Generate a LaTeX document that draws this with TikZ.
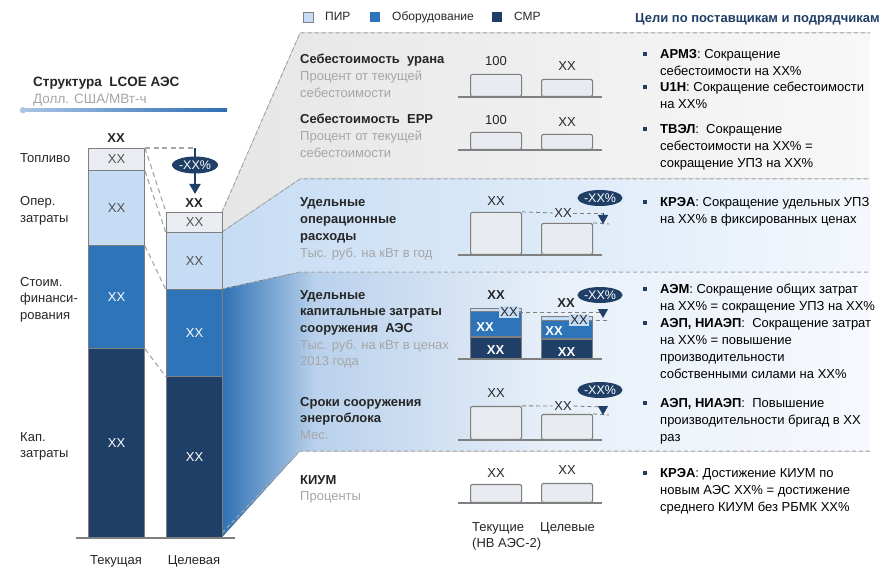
\documentclass[tikz,border=0pt]{standalone}
\usepackage{fontspec}
\setmainfont{Liberation Sans}
\usetikzlibrary{shapes.geometric,arrows.meta}

\definecolor{navy}{HTML}{1F3F66}
\definecolor{midblue}{HTML}{2E74B8}
\definecolor{pale}{HTML}{C5DCF4}
\definecolor{fuel}{HTML}{E9EDF2}
\definecolor{edge}{HTML}{7F7F7F}
\definecolor{ink}{HTML}{262626}
\definecolor{subgrey}{HTML}{A6A6A6}
\definecolor{dashc}{HTML}{A6A6A6}
\definecolor{minifill}{HTML}{E8ECF0}
\definecolor{greyA}{HTML}{E6E6E6}
\definecolor{greyB}{HTML}{F8F8F8}
\definecolor{operA}{HTML}{C6DCF4}
\definecolor{operB}{HTML}{F4F8FC}
\definecolor{capA}{HTML}{2F72B4}
\definecolor{capB}{HTML}{B9D1EC}
\definecolor{capC}{HTML}{E9F0F9}
\definecolor{capD}{HTML}{F6F9FD}
\definecolor{lineA}{HTML}{A9C4E4}
\definecolor{lineB}{HTML}{2E6DB4}

% multi-line block whose baseline is that of its first line
\newcommand\ml[1]{\begin{tabular}[t]{@{}l@{}}#1\end{tabular}}

\newcommand\goal[3]{%
  \node[bsq] (#1s) at (645,#2-4.5) {};
  \node[goaltext] (#1) at (660,#2) {\ml{#3}};}

\begin{document}
\begin{tikzpicture}[x=1pt,y=-1pt,
  txt/.style={font=\fontsize{13}{16.7}\selectfont, text=ink, inner sep=0pt, anchor=base west},
  sub/.style={text=subgrey},
  seg/.style={draw=edge, line width=1pt, minimum width=56pt, inner sep=0pt, anchor=north west,
              font=\fontsize{13}{14}\selectfont},
  conn/.style={draw=dashc, line width=1.1pt, dash pattern=on 5pt off 3.5pt},
  paneledge/.style={draw=dashc, line width=1pt, dash pattern=on 4pt off 3pt},
  minibar/.style={draw=edge, fill=minifill, line width=1.1pt, rounded corners=2pt, minimum width=51pt,
                  inner sep=0pt, anchor=south west},
  stackseg/.style={draw=edge, line width=0.8pt, minimum width=51pt, inner sep=0pt, anchor=south west},
  axisln/.style={draw=edge, line width=2pt},
  val/.style={font=\fontsize{13}{14}\selectfont, text=ink, inner sep=0pt, anchor=base},
  minidash/.style={draw=edge, line width=0.9pt, dash pattern=on 4pt off 3pt},
  tri/.style={draw=navy, line width=1pt, -{Triangle[width=10pt,length=9pt]}, navy},
  pct/.style={ellipse, fill=navy, text=white, minimum width=42pt, minimum height=16pt, inner sep=0pt,
              font=\fontsize{12.5}{14}\selectfont},
  callout/.style={fill=pale, inner sep=1.2pt, text=ink, font=\fontsize{13}{14}\selectfont},
  bsq/.style={fill=navy, minimum size=4pt, inner sep=0pt},
  goaltext/.style={txt, font=\fontsize{13}{17}\selectfont, text=black},
  legsq/.style={minimum size=10pt, inner sep=0pt, draw=edge, line width=0.6pt}
]
\useasboundingbox (0,0) rectangle (888,569);
\fill[white] (0,0) rectangle (888,569);

% ---------- panels fanning out of the target bar ----------
\begin{scope}
  \clip (222,212) -- (300,33) -- (870,33) -- (870,179) -- (300,179) -- (222,232) -- cycle;
  \fill[left color=greyA, right color=greyB] (222,30) rectangle (870,240);
\end{scope}
\begin{scope}
  \clip (222,232) -- (300,179) -- (870,179) -- (870,272) -- (300,272) -- (222,289) -- cycle;
  \fill[left color=operA, right color=operB] (222,175) rectangle (870,295);
\end{scope}
\begin{scope}
  \clip (222,289) -- (300,272) -- (870,272) -- (870,451) -- (300,451) -- (222,537) -- cycle;
  \fill[left color=capA, right color=capB] (222,265) rectangle (315,540);
  \fill[left color=capB, right color=capC] (315,265) rectangle (560,540);
  \fill[left color=capC, right color=capD] (560,265) rectangle (871,540);
\end{scope}
\draw[paneledge] (222,212) -- (300,33) -- (870,33);
\draw[paneledge] (222,232) -- (300,179) -- (870,179);
\draw[paneledge] (222,289) -- (300,272) -- (870,272);
\draw[paneledge] (222,533) -- (300,451) -- (870,451);

% ---------- legend ----------
\node[legsq, fill=pale] (lgA) at (308,17) {};
\node[txt, font=\fontsize{12}{14}\selectfont] (lgAt) at (325,21) {ПИР};
\node[legsq, fill=midblue, draw=none] (lgB) at (375,17) {};
\node[txt, font=\fontsize{12}{14}\selectfont] (lgBt) at (392,21) {Оборудование};
\node[legsq, fill=navy, draw=none] (lgC) at (497,17) {};
\node[txt, font=\fontsize{12}{14}\selectfont] (lgCt) at (514,21) {СМР};
\node[txt, text=navy] (goalhead) at (635,23) {\textbf{Цели по поставщикам и подрядчикам}};

% ---------- LCOE title ----------
\node[txt, font=\fontsize{13.5}{15}\selectfont] (ttl) at (33,87) {\textbf{Структура\ \ LCOE АЭС}};
\node[txt, sub, font=\fontsize{13.5}{15}\selectfont] (ttlsub) at (33,104) {Долл. США/МВт-ч};
\fill[left color=lineA, right color=lineB] (23,109) rectangle (227,111.4);
\fill[lineA] (23,110.2) circle (3.2);

% ---------- stacked LCOE bars ----------
\node[seg, fill=fuel, text=ink!80, minimum height=22pt] (cT) at (88,148) {XX};
\node[seg, fill=pale, text=ink!80, minimum height=75pt] (cO) at (88,170) {XX};
\node[seg, fill=midblue, text=white, minimum height=103pt] (cF) at (88,245) {XX};
\node[seg, fill=navy, text=white, minimum height=189pt] (cK) at (88,348) {XX};

\node[seg, fill=fuel, text=ink!80, minimum height=20pt] (tT) at (166,212) {XX};
\node[seg, fill=pale, text=ink!80, minimum height=57pt] (tO) at (166,232) {XX};
\node[seg, fill=midblue, text=white, minimum height=87pt] (tF) at (166,289) {XX};
\node[seg, fill=navy, text=white, minimum height=161pt] (tK) at (166,376) {XX};

\draw[axisln] (76,538) -- (235,538);

\node[val] (cTot) at (116,142.5) {\textbf{XX}};
\node[val] (tTot) at (194,207.5) {\textbf{XX}};

\draw[conn] (cT.north east) -- (tT.north west);
\draw[conn] (cT.south east) -- (tT.south west);
\draw[conn] (cO.south east) -- (tO.south west);
\draw[conn] (cF.south east) -- (tF.south west);

\coordinate (dropA) at (195,148);
\coordinate (dropB) at (195,194);
\draw[conn] (cT.north east) -- (dropA);
\draw[navy, line width=2pt, -{Triangle[width=11pt,length=10pt]}] (dropA) -- (dropB);
\node[pct, minimum width=46pt, minimum height=17pt] (dropPct) at (195,165) {-XX\%};

\node[txt] (lbT) at (20,163) {Топливо};
\node[txt] (lbO) at (20,206) {\ml{Опер.\\затраты}};
\node[txt] (lbF) at (20,286) {\ml{Стоим.\\финанси-\\рования}};
\node[txt] (lbK) at (20,441) {\ml{Кап.\\затраты}};

\node[val] (xCur) at (116,564) {Текущая};
\node[val] (xTgt) at (194,564) {Целевая};

% ---------- row 1: uranium cost ----------
\node[txt] (r1t) at (300,64) {\ml{\textbf{Себестоимость\ \ урана}\\\textcolor{subgrey}{Процент от текущей}\\\textcolor{subgrey}{себестоимости}}};
\draw[axisln] (458,97) -- (602,97);
\node[minibar, minimum height=22pt] (u1) at (470,97) {};
\node[minibar, minimum height=17pt] (u2) at (541,97) {};
\node[val] (u1v) at ([yshift=8pt]u1.north) {100};
\node[val] (u2v) at ([yshift=8pt]u2.north) {XX};

% ---------- row 2: EPP cost ----------
\node[txt] (r2t) at (300,124) {\ml{\textbf{Себестоимость\ \ ЕРР}\\\textcolor{subgrey}{Процент от текущей}\\\textcolor{subgrey}{себестоимости}}};
\draw[axisln] (458,150) -- (602,150);
\node[minibar, minimum height=17pt] (e1) at (470,150) {};
\node[minibar, minimum height=15pt] (e2) at (541,150) {};
\node[val] (e1v) at ([yshift=7pt]e1.north) {100};
\node[val] (e2v) at ([yshift=7pt]e2.north) {XX};

% ---------- row 3: operating costs ----------
\node[txt] (r3t) at (300,207) {\ml{\textbf{Удельные}\\\textbf{операционные}\\\textbf{расходы}\\\textcolor{subgrey}{Тыс. руб. на кВт в год}}};
\draw[axisln] (458,255) -- (602,255);
\node[minibar, minimum height=42pt] (o1) at (470,255) {};
\node[minibar, minimum height=31pt] (o2) at (541,255) {};
\node[val] (o1v) at ([yshift=6pt]o1.north) {XX};
\node[val, anchor=center, inner sep=1.5pt] (o2v) at (563,213) {XX};
\coordinate (o3a) at (603,213);
\coordinate (o3b) at (603,224);
\coordinate (o3c) at (609,224);
\draw[minidash] (o1.north east) -- (o2v.west);
\draw[minidash] (o2v.east) -- (o3a);
\draw[minidash] (o2.north east) -- (o3c);
\draw[tri] (o3a) -- (o3b);
\node[pct] (o3p) at (600,198) {-XX\%};

% ---------- row 4: capital costs ----------
\node[txt] (r4t) at (300,299) {\ml{\textbf{Удельные}\\\textbf{капитальные затраты}\\\textbf{сооружения\ \ АЭС}\\\textcolor{subgrey}{Тыс. руб. на кВт в ценах}\\\textcolor{subgrey}{2013 года}}};
\draw[axisln] (458,359) -- (602,359);
\node[stackseg, fill=navy, minimum height=21pt] (k1n) at (470,359) {};
\node[stackseg, fill=midblue, minimum height=25pt] (k1b) at (k1n.north west) {};
\node[stackseg, fill=pale, minimum height=3pt] (k1p) at (k1b.north west) {};
\node[stackseg, fill=navy, minimum height=19pt] (k2n) at (541,359) {};
\node[stackseg, fill=midblue, minimum height=18pt] (k2b) at (k2n.north west) {};
\node[stackseg, fill=pale, minimum height=4pt] (k2p) at (k2b.north west) {};
\node[val, text=white] (k1bv) at (485,331) {\textbf{XX}};
\node[val, text=white] (k1nv) at (495.5,354) {\textbf{XX}};
\node[val, text=white] (k2bv) at (554,335) {\textbf{XX}};
\node[val, text=white] (k2nv) at (566.5,356) {\textbf{XX}};
\node[val] (k1tot) at (496,299) {\textbf{XX}};
\node[val] (k2tot) at (566,307) {\textbf{XX}};
\node[callout] (k1c) at (509,312) {XX};
\node[callout] (k2c) at (579,320) {XX};
\coordinate (k3a) at (603,312);
\coordinate (k3b) at (603,318);
\coordinate (k3c) at (609,320);
\draw[minidash] (k1c.east) -- (k3a);
\draw[minidash] (k2c.east) -- (k3c);
\draw[tri] (k3a) -- (k3b);
\node[pct] (k3p) at (600,295) {-XX\%};

% ---------- row 5: construction time ----------
\node[txt] (r5t) at (300,406) {\ml{\textbf{Сроки сооружения}\\\textbf{энергоблока}\\\textcolor{subgrey}{Мес.}}};
\draw[axisln] (458,440) -- (602,440);
\node[minibar, minimum height=33pt] (s1) at (470,440) {};
\node[minibar, minimum height=25pt] (s2) at (541,440) {};
\node[val] (s1v) at ([yshift=8pt]s1.north) {XX};
\node[val, anchor=center, inner sep=1.5pt] (s2v) at (563,406) {XX};
\coordinate (s3a) at (603,407);
\coordinate (s3b) at (603,415);
\coordinate (s3c) at (609,415);
\draw[minidash] (s1.north east) -- (s2v.west);
\draw[minidash] (s2v.east) -- (s3a);
\draw[minidash] (s2.north east) -- (s3c);
\draw[tri] (s3a) -- (s3b);
\node[pct] (s3p) at (600,390) {-XX\%};

% ---------- row 6: capacity factor ----------
\node[txt] (r6t) at (300,484) {\ml{\textbf{КИУМ}\\\textcolor{subgrey}{Проценты}}};
\draw[axisln] (458,503) -- (602,503);
\node[minibar, minimum height=18pt] (m1) at (470,503) {};
\node[minibar, minimum height=19pt] (m2) at (541,503) {};
\node[val] (m1v) at ([yshift=6pt]m1.north) {XX};
\node[val] (m2v) at ([yshift=8pt]m2.north) {XX};

\node[txt] (cols1) at (472,531) {\ml{Текущие\\(НВ АЭС-2)}};
\node[txt] (cols2) at (540,531) {Целевые};

% ---------- supplier goals ----------
\goal{g1}{59}{\textbf{АРМЗ}: Сокращение\\себестоимости на XX\%}
\goal{g2}{92}{\textbf{U1H}: Сокращение себестоимости\\на XX\%}
\goal{g3}{134}{\textbf{ТВЭЛ}:\ \ Сокращение\\себестоимости на XX\% =\\сокращение УПЗ на XX\%}
\goal{g4}{207}{\textbf{КРЭА}: Сокращение удельных УПЗ\\на XX\% в фиксированных ценах}
\goal{g5}{293}{\textbf{АЭМ}: Сокращение общих затрат\\на XX\% = сокращение УПЗ на XX\%}
\goal{g6}{327}{\textbf{АЭП, НИАЭП}:\ \ Сокращение затрат\\на XX\% = повышение\\производительности\\собственными силами на XX\%}
\goal{g7}{407}{\textbf{АЭП, НИАЭП}:\ \ Повышение\\производительности бригад в XX\\раз}
\goal{g8}{477}{\textbf{КРЭА}: Достижение КИУМ по\\новым АЭС XX\% = достижение\\среднего КИУМ без РБМК XX\%}
\end{tikzpicture}
\end{document}
